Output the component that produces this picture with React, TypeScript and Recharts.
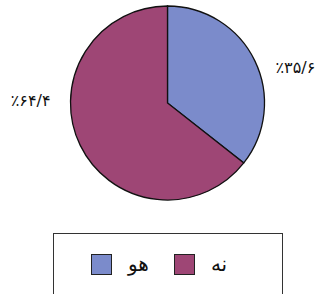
import { Cell, Legend, Pie, PieChart } from 'recharts'

const names = ['هو', 'نه']
const values = [35.6, 64.4]
const labels = ['٪۳۵/۶', '٪۶۴/۴']
const colors = ['#7b8bcb', '#9e4675']

const data = names.map((name, i) => ({ name, value: values[i], label: labels[i] }))

const font = '"DejaVu Sans", sans-serif'

interface LabelProps {
  cx?: number
  cy?: number
  outerRadius?: number
  index?: number
}

function SliceLabel({ cx = 0, cy = 0, outerRadius = 0, index = 0 }: LabelProps) {
  const right = index === 0
  const x = right ? cx + outerRadius + 11 : cx - outerRadius - 20
  const y = right ? cy - 36 : cy - 3
  return (
    <text
      x={x}
      y={y}
      textAnchor={right ? 'start' : 'end'}
      dominantBaseline="central"
      fontFamily={font}
      fontSize={16}
      fill="#111"
      direction="ltr"
    >
      {labels[index]}
    </text>
  )
}

function LegendBox() {
  return (
    <div
      style={{
        boxSizing: 'border-box',
        width: 230,
        height: 70,
        border: '1.5px solid #333',
        background: '#fff',
        display: 'flex',
        paddingTop: 19,
        paddingLeft: 37,
        gap: 25,
        fontFamily: font,
      }}
    >
      {data.map((d, i) => (
        <div key={d.name} style={{ display: 'flex', alignItems: 'center', height: 22 }}>
          <span
            style={{
              width: 21,
              height: 21,
              boxSizing: 'border-box',
              border: '1.5px solid #222',
              background: colors[i],
              marginRight: 16,
            }}
          />
          <span style={{ fontSize: 20, color: '#111', lineHeight: '22px' }}>{d.name}</span>
        </div>
      ))}
    </div>
  )
}

export default function App() {
  return (
    <div style={{ position: 'absolute', left: 0, top: 0, background: '#fff' }}>
      <PieChart width={321} height={294} margin={{ top: 0, right: 0, bottom: 0, left: 0 }}>
        <Pie
          data={data}
          dataKey="value"
          nameKey="name"
          cx={167.5}
          cy={103}
          outerRadius={97}
          startAngle={90}
          endAngle={-270}
          stroke="#111"
          strokeWidth={1.3}
          labelLine={false}
          label={<SliceLabel />}
          isAnimationActive={false}
        >
          {data.map((d, i) => (
            <Cell key={d.name} fill={colors[i]} />
          ))}
        </Pie>
        <Legend
          content={<LegendBox />}
          wrapperStyle={{ position: 'absolute', left: 53, top: 233, width: 230 }}
        />
      </PieChart>
    </div>
  )
}
